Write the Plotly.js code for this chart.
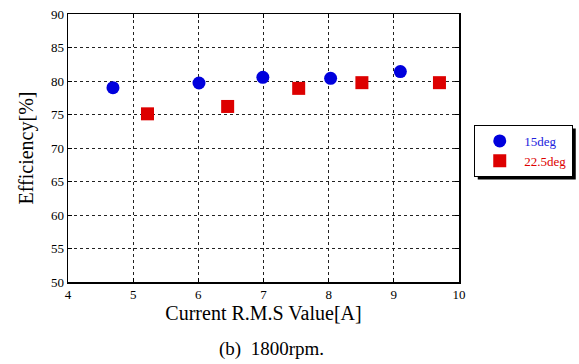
<!DOCTYPE html>
<html><head><meta charset="utf-8">
<script src="https://cdn.plot.ly/plotly-3.0.1.min.js"></script>
<style>body{margin:0;background:#fff}#c{width:579px;height:364px}</style>
</head><body><div id="c"></div>
<script>
const x15 = [4.69, 6.01, 6.99, 8.03, 9.10];
const y15 = [79.0, 79.7, 80.55, 80.4, 81.4];
const x225 = [5.22, 6.45, 7.54, 8.51, 9.70];
const y225 = [75.1, 76.2, 78.9, 79.75, 79.75];
const names = ['15deg', '22.5deg'];
const xTitle = 'Current R.M.S Value[A]';
const yTitle = 'Efficiency[%]';
const caption = '(b)  1800rpm.';

const F = 'Liberation Serif, Times New Roman, serif';
const data = [
  {x: x15, y: y15, mode: 'markers', type: 'scatter', name: names[0],
   marker: {symbol: 'circle', size: 13, color: '#0000dd'}},
  {x: x225, y: y225, mode: 'markers', type: 'scatter', name: names[1],
   marker: {symbol: 'square', size: 13, color: '#dd0000'}}
];
const ax = {
  showline: true, mirror: 'ticks', linecolor: '#000', linewidth: 1.5,
  ticks: 'inside', ticklen: 4, tickcolor: '#000',
  showgrid: true, gridcolor: '#222', griddash: 'dot', gridwidth: 1,
  zeroline: false, tickfont: {family: F, size: 13, color: '#000'}
};
const layout = {
  width: 579, height: 364,
  margin: {l: 68, r: 120, t: 14, b: 82, autoexpand: false},
  paper_bgcolor: '#fff', plot_bgcolor: '#fff',
  font: {family: F, color: '#000'},
  xaxis: Object.assign({}, ax, {range: [4, 10], dtick: 1,
    title: {text: xTitle, font: {family: F, size: 20, color: '#000'}, standoff: 0}}),
  yaxis: Object.assign({}, ax, {range: [50, 90], dtick: 5,
    title: {text: yTitle, font: {family: F, size: 20, color: '#000'}, standoff: 12}}),
  showlegend: true,
  legend: {x: 1.039, y: 0.586, xanchor: 'left', yanchor: 'top',
    bgcolor: '#fff', bordercolor: '#000', borderwidth: 1,
    font: {family: F, size: 13}, itemwidth: 39, tracegroupgap: 0},
  shapes: [],
  annotations: [
    {text: caption, xref: 'paper', yref: 'paper', x: 0.52, y: -0.25, yanchor: 'middle',
     showarrow: false, font: {family: F, size: 19, color: '#000'}}
  ]
};
function colourLegend(){
  document.querySelectorAll('.legend .traces').forEach(function(t, i){
    const tx = t.querySelector('text');
    if (tx) tx.style.fill = i === 0 ? '#2222dd' : '#dd0000';
  });
}
Plotly.newPlot('c', data, layout, {displayModeBar: false, staticPlot: true}).then(function(gd){
  colourLegend();
  const bg = document.querySelector('.legend .bg');
  if (bg) {
    const r = bg.getBoundingClientRect();
    const sz = gd._fullLayout._size;
    const px2x = function(p){ return (p - sz.l) / sz.w; };
    const px2y = function(p){ return 1 - (p - sz.t) / sz.h; };
    Plotly.relayout(gd, {shapes: [{type: 'rect', xref: 'paper', yref: 'paper',
      x0: px2x(r.left + 3), x1: px2x(r.right + 3), y0: px2y(r.bottom + 3), y1: px2y(r.top + 3),
      fillcolor: '#000', line: {width: 0}, layer: 'below'}]}).then(colourLegend);
  }
});
</script></body></html>
